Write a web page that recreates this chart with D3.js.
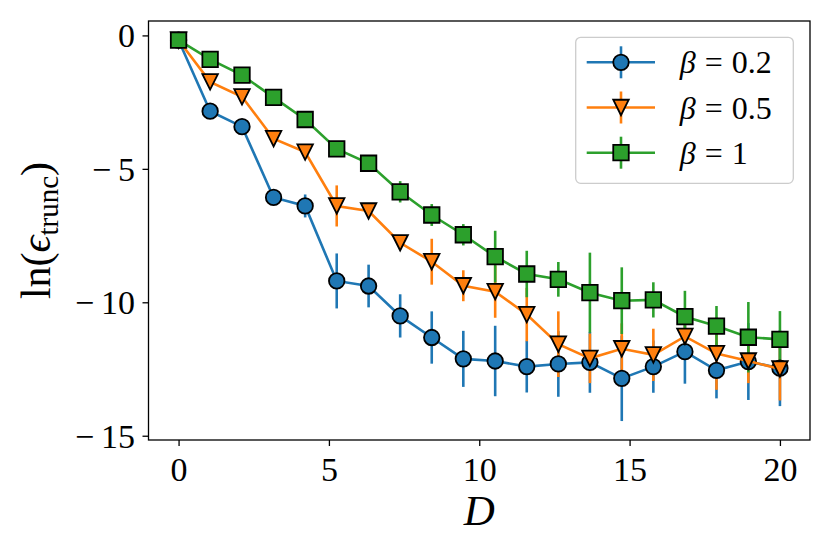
<!DOCTYPE html>
<html>
<head>
<meta charset="utf-8">
<script src="https://cdn.jsdelivr.net/npm/d3@7"></script>
<style>
  body { margin: 0; background: #fff; }
  text { font-family: "Liberation Serif", "DejaVu Serif", serif; fill: #000; }
</style>
</head>
<body>
<div id="chart"></div>
<script>
// bond dimension D (20 points from 0 to 20)
let dValues = [0, 1.05, 2.11, 3.16, 4.21, 5.26, 6.32, 7.37, 8.42, 9.47,
               10.53, 11.58, 12.63, 13.68, 14.74, 15.79, 16.84, 17.89, 18.95, 20];

let betaLabels = ["0.2", "0.5", "1"];

// ln(eps_trunc) and error bars
let beta02 = [-0.18, -2.84, -3.42, -6.07, -6.39, -9.2, -9.39, -10.51, -11.32, -12.12,
              -12.2, -12.41, -12.31, -12.25, -12.85, -12.41, -11.85, -12.55, -12.22, -12.47];
let beta02Err = [0, 0.1, 0.15, 0.2, 0.43, 1.03, 0.8, 0.81, 0.98, 1.05,
                 1.32, 0.97, 1.23, 1.14, 1.6, 0.98, 1.2, 1.05, 1.44, 1.42];

let beta05 = [-0.18, -1.74, -2.3, -3.87, -4.37, -6.39, -6.58, -7.77, -8.48, -9.38,
              -9.6, -10.46, -11.57, -12.1, -11.74, -11.97, -11.28, -11.92, -12.2, -12.5];
let beta05Err = [0, 0.1, 0.15, 0.15, 0.2, 0.77, 0.25, 0.25, 0.86, 0.58,
                 0.98, 1.0, 1.23, 0.93, 0.95, 0.98, 0.6, 1.36, 0.83, 1.18];

let beta1 = [-0.18, -0.9, -1.49, -2.32, -3.15, -4.25, -4.79, -5.86, -6.73, -7.47,
             -8.29, -8.94, -9.14, -9.64, -9.94, -9.91, -10.54, -10.89, -11.31, -11.39];
let beta1Err = [0, 0.15, 0.15, 0.15, 0.2, 0.2, 0.2, 0.4, 0.41, 0.4,
                0.97, 0.87, 0.65, 1.5, 1.25, 0.66, 0.97, 0.75, 1.32, 1.06];

let xTicks = [0, 5, 10, 15, 20];
let yTicks = [0, -5, -10, -15];

let series = [
  {label: betaLabels[0], values: beta02, errs: beta02Err, color: "#1f77b4", marker: "circle"},
  {label: betaLabels[1], values: beta05, errs: beta05Err, color: "#ff7f0e", marker: "triangle"},
  {label: betaLabels[2], values: beta1,  errs: beta1Err,  color: "#2ca02c", marker: "square"}
];

let margin = {top: 21, right: 20, bottom: 114, left: 148.5},
    width = 830 - margin.left - margin.right,
    height = 554 - margin.top - margin.bottom;

let ms = 15.5;

let svg = d3.select("#chart").append("svg")
    .attr("width", 830)
    .attr("height", 554)
  .append("g")
    .attr("transform", "translate(" + margin.left + "," + margin.top + ")");

let xScale = d3.scaleLinear().domain([-1, 21]).range([0, width]);
let yScale = d3.scaleLinear().domain([-15.16, 0.54]).range([height, 0]);

function markerPath(type) {
  let h = ms / 2;
  if (type === "circle") {
    return "M" + h + ",0A" + h + "," + h + " 0 1,1 " + (-h) + ",0A" + h + "," + h + " 0 1,1 " + h + ",0Z";
  }
  if (type === "triangle") {
    return "M0," + h + "L" + (-h) + "," + (-h) + "L" + h + "," + (-h) + "Z";
  }
  return "M" + (-h) + "," + (-h) + "H" + h + "V" + h + "H" + (-h) + "Z";
}

// error bars of all series go under the lines and markers
series.forEach(s => {
  svg.append("g").selectAll("line")
    .data(s.values)
    .enter().append("line")
      .attr("x1", (d, i) => xScale(dValues[i]))
      .attr("x2", (d, i) => xScale(dValues[i]))
      .attr("y1", (d, i) => yScale(d + s.errs[i]))
      .attr("y2", (d, i) => yScale(d - s.errs[i]))
      .attr("stroke", s.color)
      .attr("stroke-width", 2.6);
});

let line = d3.line()
  .x((d, i) => xScale(dValues[i]))
  .y(d => yScale(d));

series.forEach(s => {
  svg.append("path")
    .datum(s.values)
    .attr("d", line)
    .attr("fill", "none")
    .attr("stroke", s.color)
    .attr("stroke-width", 2.6);

  svg.append("g").selectAll("path")
    .data(s.values)
    .enter().append("path")
      .attr("d", markerPath(s.marker))
      .attr("transform", (d, i) => "translate(" + xScale(dValues[i]) + "," + yScale(d) + ")")
      .attr("fill", s.color)
      .attr("stroke", "#000")
      .attr("stroke-width", 1.8);
});

// axes
let minusFmt = d => d < 0 ? "\u2212\u2009" + Math.abs(d) : "" + d;
let xAxis = d3.axisBottom(xScale).tickValues(xTicks).tickSize(6).tickPadding(11).tickSizeOuter(0);
let yAxis = d3.axisLeft(yScale).tickValues(yTicks).tickFormat(minusFmt).tickSize(6).tickPadding(7.5).tickSizeOuter(0);

let gx = svg.append("g")
    .attr("transform", "translate(0," + height + ")")
    .call(xAxis);
let gy = svg.append("g").call(yAxis);

[gx, gy].forEach(g => {
  g.select(".domain").remove();
  g.selectAll("line").attr("stroke", "#000").attr("stroke-width", 1.3);
  g.selectAll("text")
    .style("font-family", "'Liberation Serif', serif")
    .style("font-size", "34px")
    .attr("fill", "#000");
});
gy.selectAll("text").attr("dy", "0.34em");

// frame
svg.append("rect")
  .attr("x", 0).attr("y", 0)
  .attr("width", width).attr("height", height)
  .attr("fill", "none")
  .attr("stroke", "#000")
  .attr("stroke-width", 1.3);

// axis labels
svg.append("text")
  .attr("x", xScale(10))
  .attr("y", height + 85)
  .attr("text-anchor", "middle")
  .style("font-size", "43px")
  .style("font-style", "italic")
  .text("D");

let ylab = svg.append("text")
  .attr("transform", "translate(" + (50 - margin.left) + "," + (height / 2) + ") rotate(-90)")
  .attr("text-anchor", "middle")
  .style("font-size", "42px");
ylab.append("tspan").text("ln(");
ylab.append("tspan").style("font-style", "italic").text("\u03f5");
ylab.append("tspan").attr("baseline-shift", "-28%").style("font-size", "29px").text("trunc");
ylab.append("tspan").attr("baseline-shift", "0").text(")");

// legend
let legend = svg.append("g")
  .attr("transform", "translate(" + (575.7 - margin.left) + "," + (37.3 - margin.top) + ")");

legend.append("rect")
  .attr("width", 217.6)
  .attr("height", 146)
  .attr("rx", 5)
  .attr("fill", "#fff")
  .attr("fill-opacity", 0.8)
  .attr("stroke", "#cccccc")
  .attr("stroke-width", 1.3);

series.forEach((s, i) => {
  let row = legend.append("g").attr("transform", "translate(0," + (25 + i * 45.2) + ")");
  row.append("line")
    .attr("x1", 11).attr("x2", 79.3)
    .attr("stroke", s.color).attr("stroke-width", 2.6);
  row.append("line")
    .attr("x1", 45.3).attr("x2", 45.3).attr("y1", -16).attr("y2", 16)
    .attr("stroke", s.color).attr("stroke-width", 2.6);
  row.append("path")
    .attr("d", markerPath(s.marker))
    .attr("transform", "translate(45.3,0)")
    .attr("fill", s.color)
    .attr("stroke", "#000")
    .attr("stroke-width", 1.8);
  let t = row.append("text")
    .attr("x", 104)
    .attr("y", 11)
    .style("font-size", "32px");
  t.append("tspan").style("font-style", "italic").text("β");
  t.append("tspan").attr("dx", 9).text("=");
  t.append("tspan").attr("dx", 9).text(s.label);
});
</script>
</body>
</html>
